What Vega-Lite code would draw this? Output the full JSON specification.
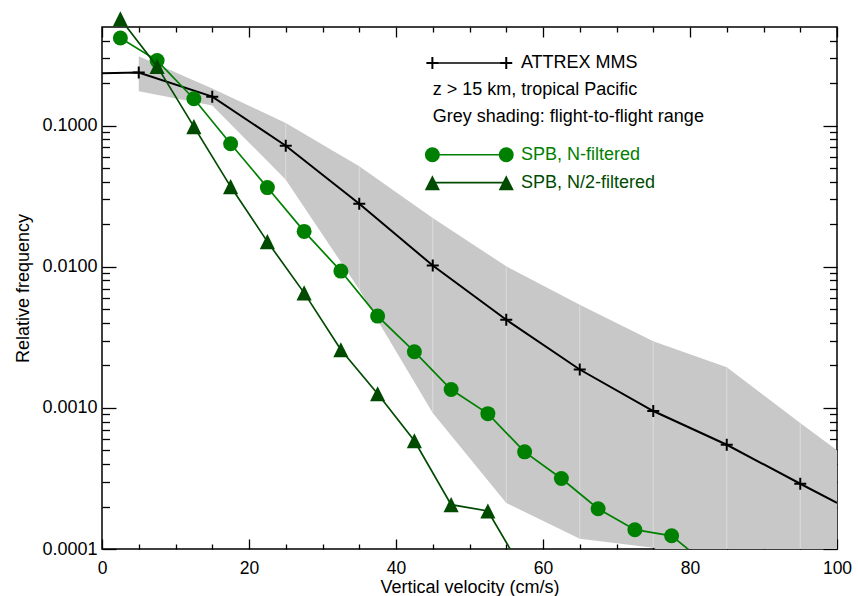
{
  "$schema": "https://vega.github.io/schema/vega-lite/v6.json",
  "width": 735,
  "height": 522,
  "autosize": {"type": "none"},
  "padding": {"left": 102, "top": 27, "right": 21, "bottom": 47},
  "background": "white",
  "config": {
    "font": "Liberation Sans",
    "view": {"stroke": "black", "strokeWidth": 1.5},
    "axis": {"labelFont": "Liberation Sans", "titleFont": "Liberation Sans", "labelColor": "black", "titleColor": "black", "tickColor": "black", "grid": false, "domain": false}
  },
  "datasets": {
    "attrex": [
      {"x": 0, "y": 0.235, "m": 0},
      {"x": 5, "y": 0.238, "m": 1},
      {"x": 15, "y": 0.1605, "m": 1},
      {"x": 25, "y": 0.0721, "m": 1},
      {"x": 35, "y": 0.028, "m": 1},
      {"x": 45, "y": 0.0102, "m": 1},
      {"x": 55, "y": 0.00421, "m": 1},
      {"x": 65, "y": 0.00187, "m": 1},
      {"x": 75, "y": 0.00095, "m": 1},
      {"x": 85, "y": 0.000548, "m": 1},
      {"x": 95, "y": 0.00029, "m": 1},
      {"x": 100, "y": 0.000212, "m": 0}
    ],
    "shade": [
      {"x": 5, "lo": 0.175, "hi": 0.31},
      {"x": 15, "lo": 0.139, "hi": 0.183},
      {"x": 25, "lo": 0.0414, "hi": 0.1045},
      {"x": 35, "lo": 0.0069, "hi": 0.0515},
      {"x": 45, "lo": 0.00092, "hi": 0.0222},
      {"x": 55, "lo": 0.000212, "hi": 0.01007},
      {"x": 65, "lo": 0.000118, "hi": 0.00538},
      {"x": 75, "lo": 0.000102, "hi": 0.00296},
      {"x": 85, "lo": 0.00006, "hi": 0.00194},
      {"x": 95, "lo": 0.00004, "hi": 0.00078},
      {"x": 100, "lo": 0.00004, "hi": 0.0005}
    ],
    "nfilt": [
      {"x": 2.5, "y": 0.418},
      {"x": 7.5, "y": 0.289},
      {"x": 12.5, "y": 0.155},
      {"x": 17.5, "y": 0.0745},
      {"x": 22.5, "y": 0.0364},
      {"x": 27.5, "y": 0.0178},
      {"x": 32.5, "y": 0.00932},
      {"x": 37.5, "y": 0.00447},
      {"x": 42.5, "y": 0.0025},
      {"x": 47.5, "y": 0.00135},
      {"x": 52.5, "y": 0.00091},
      {"x": 57.5, "y": 0.000488},
      {"x": 62.5, "y": 0.000316},
      {"x": 67.5, "y": 0.000193},
      {"x": 72.5, "y": 0.000137},
      {"x": 77.5, "y": 0.000124},
      {"x": 82.5, "y": 0.0000762}
    ],
    "n2filt": [
      {"x": 2.5, "y": 0.571},
      {"x": 7.5, "y": 0.263},
      {"x": 12.5, "y": 0.0984},
      {"x": 17.5, "y": 0.037},
      {"x": 22.5, "y": 0.01507},
      {"x": 27.5, "y": 0.00653},
      {"x": 32.5, "y": 0.00258},
      {"x": 37.5, "y": 0.00126},
      {"x": 42.5, "y": 0.000585},
      {"x": 47.5, "y": 0.000206},
      {"x": 52.5, "y": 0.000186},
      {"x": 57.5, "y": 0.0000668}
    ],
    "leg": [
      {"s": "A", "x": 44.95, "y": 0.278},
      {"s": "A", "x": 55, "y": 0.278},
      {"s": "N", "x": 44.95, "y": 0.0622},
      {"s": "N", "x": 55, "y": 0.0622},
      {"s": "H", "x": 44.95, "y": 0.0394},
      {"s": "H", "x": 55, "y": 0.0394}
    ],
    "legtext": [
      {"t": "ATTREX MMS", "x": 57.0, "y": 0.278, "c": "A"},
      {"t": "z > 15 km, tropical Pacific", "x": 45.0, "y": 0.18, "c": "A"},
      {"t": "Grey shading: flight-to-flight range", "x": 45.0, "y": 0.1153, "c": "A"},
      {"t": "SPB, N-filtered", "x": 57.0, "y": 0.0622, "c": "N"},
      {"t": "SPB, N/2-filtered", "x": 57.0, "y": 0.0394, "c": "H"}
    ]
  },
  "resolve": {"axis": {"x": "independent", "y": "independent"}},
  "layer": [
    {
      "data": {"name": "shade"},
      "mark": {"type": "area", "color": "#c8c8c8", "opacity": 1, "clip": true},
      "encoding": {
        "x": {"field": "x", "type": "quantitative", "scale": {"domain": [0, 100], "nice": false, "zero": false},
          "axis": {"orient": "bottom", "values": [0, 20, 40, 60, 80, 100], "format": "d", "ticks": false, "labelPadding": 10, "labelFontSize": 17.5, "labelFlush": false, "labelOverlap": false,
            "title": "Vertical velocity (cm/s)", "titleFontSize": 18, "titleFontWeight": "normal", "titleBaseline": "alphabetic", "titleY": 43.5}},
        "y": {"field": "hi", "type": "quantitative", "scale": {"type": "log", "domain": [0.0001, 0.5], "nice": false},
          "axis": {"orient": "left", "values": [0.0001, 0.001, 0.01, 0.1], "format": ".4f", "ticks": false, "labelPadding": 5, "labelFontSize": 18, "labelFlush": false, "labelOverlap": false,
            "title": "Relative frequency", "titleFontSize": 18, "titleFontWeight": "normal", "titleAngle": -90, "titleBaseline": "alphabetic", "titleAlign": "center", "titleX": -74, "titleY": 261}},
        "y2": {"field": "lo"}
      }
    },
    {
      "data": {"name": "shade"},
      "transform": [{"filter": "datum.x >= 25 && datum.x <= 95"}],
      "mark": {"type": "rule", "color": "#dcdcdc", "strokeWidth": 1, "clip": true},
      "encoding": {
        "x": {"field": "x", "type": "quantitative", "scale": {"domain": [0, 100], "nice": false, "zero": false},
          "axis": {"orient": "bottom", "values": [0, 20, 40, 60, 80, 100], "labels": false, "ticks": true, "tickSize": -10, "tickWidth": 1.3, "title": null}},
        "y": {"field": "hi", "type": "quantitative", "scale": {"type": "log", "domain": [0.0001, 0.5], "nice": false},
          "axis": {"orient": "left", "values": [0.0001, 0.001, 0.01, 0.1], "labels": false, "ticks": true, "tickSize": -14, "tickWidth": 1.3, "title": null}},
        "y2": {"field": "lo"}
      }
    },
    {
      "data": {"name": "attrex"},
      "mark": {"type": "line", "color": "black", "strokeWidth": 2, "clip": true},
      "encoding": {
        "x": {"field": "x", "type": "quantitative", "scale": {"domain": [0, 100], "nice": false, "zero": false},
          "axis": {"orient": "bottom", "values": [5, 10, 15, 25, 30, 35, 45, 50, 55, 65, 70, 75, 85, 90, 95], "labels": false, "ticks": true, "tickSize": -5, "tickWidth": 1.3, "title": null}},
        "y": {"field": "y", "type": "quantitative", "scale": {"type": "log", "domain": [0.0001, 0.5], "nice": false},
          "axis": {"orient": "left", "values": [0.0002, 0.0003, 0.0004, 0.0005, 0.0006, 0.0007, 0.0008, 0.0009, 0.002, 0.003, 0.004, 0.005, 0.006, 0.007, 0.008, 0.009, 0.02, 0.03, 0.04, 0.05, 0.06, 0.07, 0.08, 0.09, 0.2, 0.3, 0.4], "labels": false, "ticks": true, "tickSize": -7.5, "tickWidth": 1.3, "title": null}}
      }
    },
    {
      "data": {"name": "attrex"},
      "transform": [{"filter": "datum.m == 1"}],
      "mark": {"type": "point", "shape": "M-1,0L1,0M0,-1L0,1", "filled": false, "size": 144, "stroke": "black", "strokeWidth": 2, "opacity": 1},
      "encoding": {
        "x": {"field": "x", "type": "quantitative", "scale": {"domain": [0, 100], "nice": false, "zero": false},
          "axis": {"orient": "top", "values": [0, 20, 40, 60, 80, 100], "labels": false, "ticks": true, "tickSize": -10, "tickWidth": 1.3, "title": null}},
        "y": {"field": "y", "type": "quantitative", "scale": {"type": "log", "domain": [0.0001, 0.5], "nice": false},
          "axis": {"orient": "right", "values": [0.0001, 0.001, 0.01, 0.1], "labels": false, "ticks": true, "tickSize": -14, "tickWidth": 1.3, "title": null}}
      }
    },
    {
      "data": {"name": "nfilt"},
      "mark": {"type": "line", "color": "#008000", "strokeWidth": 1.7, "clip": true},
      "encoding": {
        "x": {"field": "x", "type": "quantitative", "scale": {"domain": [0, 100], "nice": false, "zero": false},
          "axis": {"orient": "top", "values": [5, 10, 15, 25, 30, 35, 45, 50, 55, 65, 70, 75, 85, 90, 95], "labels": false, "ticks": true, "tickSize": -5, "tickWidth": 1.3, "title": null}},
        "y": {"field": "y", "type": "quantitative", "scale": {"type": "log", "domain": [0.0001, 0.5], "nice": false},
          "axis": {"orient": "right", "values": [0.0002, 0.0003, 0.0004, 0.0005, 0.0006, 0.0007, 0.0008, 0.0009, 0.002, 0.003, 0.004, 0.005, 0.006, 0.007, 0.008, 0.009, 0.02, 0.03, 0.04, 0.05, 0.06, 0.07, 0.08, 0.09, 0.2, 0.3, 0.4], "labels": false, "ticks": true, "tickSize": -7.5, "tickWidth": 1.3, "title": null}}
      }
    },
    {
      "data": {"name": "nfilt"},
      "transform": [{"filter": "datum.x < 80"}],
      "mark": {"type": "point", "shape": "circle", "filled": true, "size": 225, "color": "#008000", "opacity": 1},
      "encoding": {
        "x": {"field": "x", "type": "quantitative", "scale": {"domain": [0, 100], "nice": false, "zero": false}, "axis": null},
        "y": {"field": "y", "type": "quantitative", "scale": {"type": "log", "domain": [0.0001, 0.5], "nice": false}, "axis": null}
      }
    },
    {
      "data": {"name": "n2filt"},
      "mark": {"type": "line", "color": "#004b00", "strokeWidth": 1.7, "clip": true},
      "encoding": {
        "x": {"field": "x", "type": "quantitative", "scale": {"domain": [0, 100], "nice": false, "zero": false}, "axis": null},
        "y": {"field": "y", "type": "quantitative", "scale": {"type": "log", "domain": [0.0001, 0.5], "nice": false}, "axis": null}
      }
    },
    {
      "data": {"name": "n2filt"},
      "transform": [{"filter": "datum.x < 55"}],
      "mark": {"type": "point", "shape": "M0,-1L1,1L-1,1Z", "filled": true, "size": 230, "color": "#004b00", "opacity": 1},
      "encoding": {
        "x": {"field": "x", "type": "quantitative", "scale": {"domain": [0, 100], "nice": false, "zero": false}, "axis": null},
        "y": {"field": "y", "type": "quantitative", "scale": {"type": "log", "domain": [0.0001, 0.5], "nice": false}, "axis": null}
      }
    },
    {
      "data": {"name": "leg"},
      "mark": {"type": "line", "strokeWidth": 1.7},
      "encoding": {
        "x": {"field": "x", "type": "quantitative", "scale": {"domain": [0, 100], "nice": false, "zero": false}, "axis": null},
        "y": {"field": "y", "type": "quantitative", "scale": {"type": "log", "domain": [0.0001, 0.5], "nice": false}, "axis": null},
        "color": {"field": "s", "type": "nominal", "scale": {"domain": ["A", "N", "H"], "range": ["black", "#008000", "#004b00"]}, "legend": null},
        "detail": {"field": "s"}
      }
    },
    {
      "data": {"name": "leg"},
      "transform": [{"filter": "datum.s == 'A'"}],
      "mark": {"type": "point", "shape": "M-1,0L1,0M0,-1L0,1", "filled": false, "size": 144, "stroke": "black", "strokeWidth": 2, "opacity": 1},
      "encoding": {
        "x": {"field": "x", "type": "quantitative", "scale": {"domain": [0, 100], "nice": false, "zero": false}, "axis": null},
        "y": {"field": "y", "type": "quantitative", "scale": {"type": "log", "domain": [0.0001, 0.5], "nice": false}, "axis": null}
      }
    },
    {
      "data": {"name": "leg"},
      "transform": [{"filter": "datum.s == 'N'"}],
      "mark": {"type": "point", "shape": "circle", "filled": true, "size": 225, "color": "#008000", "opacity": 1},
      "encoding": {
        "x": {"field": "x", "type": "quantitative", "scale": {"domain": [0, 100], "nice": false, "zero": false}, "axis": null},
        "y": {"field": "y", "type": "quantitative", "scale": {"type": "log", "domain": [0.0001, 0.5], "nice": false}, "axis": null}
      }
    },
    {
      "data": {"name": "leg"},
      "transform": [{"filter": "datum.s == 'H'"}],
      "mark": {"type": "point", "shape": "M0,-1L1,1L-1,1Z", "filled": true, "size": 230, "color": "#004b00", "opacity": 1},
      "encoding": {
        "x": {"field": "x", "type": "quantitative", "scale": {"domain": [0, 100], "nice": false, "zero": false}, "axis": null},
        "y": {"field": "y", "type": "quantitative", "scale": {"type": "log", "domain": [0.0001, 0.5], "nice": false}, "axis": null}
      }
    },
    {
      "data": {"name": "legtext"},
      "mark": {"type": "text", "align": "left", "baseline": "middle", "fontSize": 18, "font": "Liberation Sans"},
      "encoding": {
        "x": {"field": "x", "type": "quantitative", "scale": {"domain": [0, 100], "nice": false, "zero": false}, "axis": null},
        "y": {"field": "y", "type": "quantitative", "scale": {"type": "log", "domain": [0.0001, 0.5], "nice": false}, "axis": null},
        "text": {"field": "t"},
        "color": {"field": "c", "type": "nominal", "scale": {"domain": ["A", "N", "H"], "range": ["black", "#008000", "#004b00"]}, "legend": null}
      }
    }
  ]
}
